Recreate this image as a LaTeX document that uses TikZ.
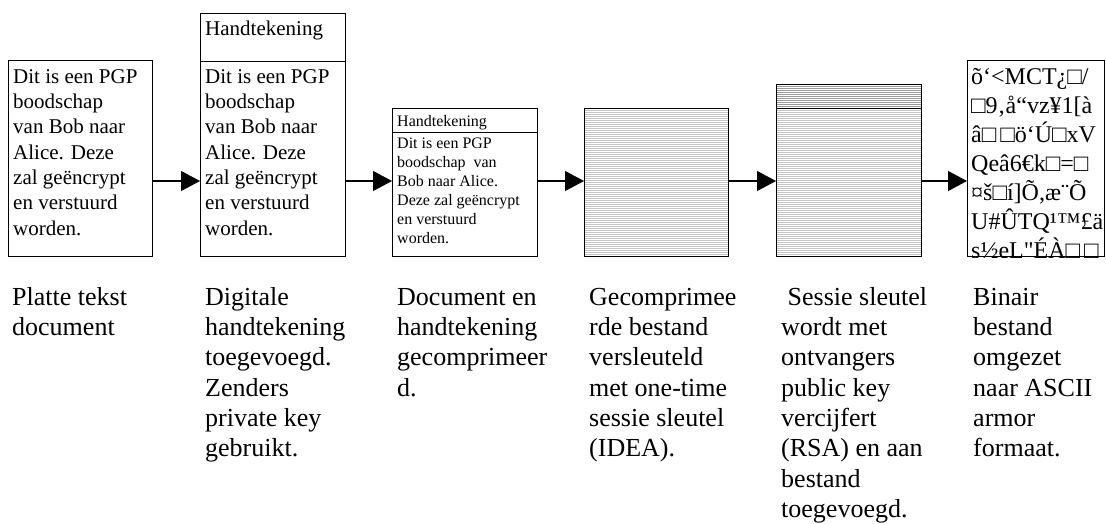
\documentclass[tikz,border=0pt]{standalone}
\usepackage{fontspec}
\setmainfont{Liberation Serif}
% same face without the TeX input mapping, so that " stays a straight quote
\newfontfamily\rawserif{Liberation Serif}[Ligatures=TeXOff]
\usetikzlibrary{arrows.meta}
% invisible rule so that the first baseline lies exactly 1em below a node's top
\newcommand\topstrut{\rule{0pt}{1em}}
\begin{document}
\begin{tikzpicture}[x=1pt,y=1pt,
  box/.style={draw, line width=1.4pt, rectangle, inner sep=0pt, anchor=north west},
  hatch/.style={path picture={
      \foreach \k in {1,...,110}{
        \draw[#1, line width=0.9pt]
          ([yshift={-2pt*\k}]path picture bounding box.north west) --
          ([yshift={-2pt*\k}]path picture bounding box.north east);}}},
  arr/.style={line width=1.1pt, -{Triangle[length=19pt,width=20pt]}},
  bodytext/.style={anchor=north west, inner sep=0pt, align=left,
      font=\fontsize{21}{25.3}\selectfont},
  smalltext/.style={anchor=north west, inner sep=0pt, align=left,
      font=\fontsize{16}{19}\selectfont},
  bintext/.style={anchor=north west, inner sep=0pt, align=left,
      font=\rawserif\fontsize{24}{29}\selectfont},
  caption/.style={anchor=north west, inner sep=0pt, align=left,
      font=\fontsize{26}{30.3}\selectfont},
]
\useasboundingbox (0,0) rectangle (1106,-523);

% document boxes
\node[box, minimum width=144pt, minimum height=196pt] (b1) at (8,-60) {};
\node[box, minimum width=145pt, minimum height=48pt]  (b2h) at (200,-13) {};
\node[box, minimum width=145pt, minimum height=195pt] (b2) at (200,-61) {};
\node[box, minimum width=145pt, minimum height=24pt]  (b3h) at (392,-108) {};
\node[box, minimum width=145pt, minimum height=124pt] (b3) at (392,-132) {};
\node[box, hatch=gray!45, minimum width=144pt, minimum height=148pt] (b4) at (584,-108) {};
\node[box, hatch=gray!80, minimum width=145pt, minimum height=24pt]  (b5h) at (776,-84) {};
\node[box, hatch=gray!45, minimum width=145pt, minimum height=148pt] (b5) at (776,-108) {};
\node[box, minimum width=137pt, minimum height=196pt] (b6) at (967,-60) {};

% box contents
\node[bodytext] (t1) at (13,-62) {\topstrut Dit is een PGP\\boodschap\\van Bob naar\\Alice. Deze\\zal geëncrypt\\en verstuurd\\worden.};
\node[bodytext] (h2) at (205,-14) {\topstrut Handtekening};
\node[bodytext] (t2) at (205,-62) {\topstrut Dit is een PGP\\boodschap\\van Bob naar\\Alice. Deze\\zal geëncrypt\\en verstuurd\\worden.};
\node[smalltext] (h3) at (397,-110) {\topstrut Handtekening};
\node[smalltext] (t3) at (397,-132) {\topstrut Dit is een PGP\\boodschap\ \ van\\Bob naar Alice.\\Deze zal geëncrypt\\en verstuurd\\worden.};
\begin{scope}
  \clip (b6.north west) rectangle (b6.south east);
  \node[bintext] (t6) at (971,-60) {\topstrut õ‘<MCT¿□/\\□9‚å“vz¥1[à\\â□\,□ö‘Ú□xV\\Qeâ6€k□=□\\¤š□í]Õ,æ¨Õ\\U\#ÛTQ¹™£ä\\s½eL"ÉÀ□\,□};
\end{scope}
\node[box, minimum width=137pt, minimum height=196pt] (b6f) at (967,-60) {};

% process arrows
\coordinate (ay) at (0,-181);
\draw[arr] (b1.east |- ay) -- (b2.west |- ay);
\draw[arr] (b2.east |- ay) -- (b3.west |- ay);
\draw[arr] (b3.east |- ay) -- (b4.west |- ay);
\draw[arr] (b4.east |- ay) -- (b5.west |- ay);
\draw[arr] (b5.east |- ay) -- (b6.west |- ay);

% step descriptions
\node[caption] (c1) at (12,-279) {\topstrut Platte tekst\\document};
\node[caption] (c2) at (205,-279) {\topstrut Digitale\\handtekening\\toegevoegd.\\Zenders\\private key\\gebruikt.};
\node[caption] (c3) at (397,-279) {\topstrut Document en\\handtekening\\gecomprimeer\\d.};
\node[caption] (c4) at (589,-279) {\topstrut Gecomprimee\\rde bestand\\versleuteld\\met one-time\\sessie sleutel\\(IDEA).};
\node[caption] (c5) at (781,-279) {\topstrut\ Sessie sleutel\\wordt met\\ontvangers\\public key\\vercijfert\\(RSA) en aan\\bestand\\toegevoegd.};
\node[caption] (c6) at (973,-279) {\topstrut Binair\\bestand\\omgezet\\naar ASCII\\armor\\formaat.};
\end{tikzpicture}
\end{document}
